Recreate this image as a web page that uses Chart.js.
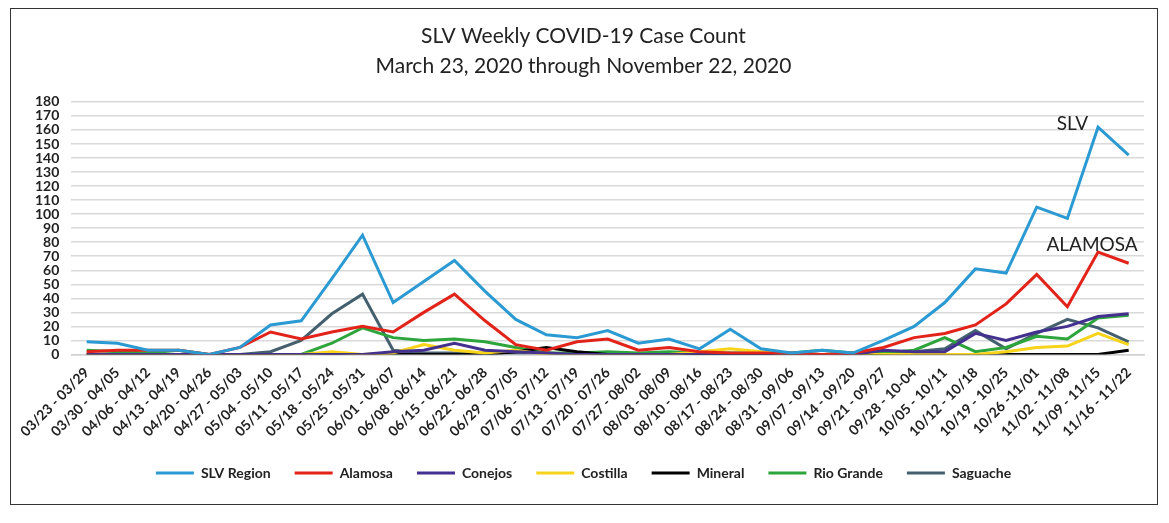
<!DOCTYPE html>
<html lang="en">
<head>
    <meta charset="UTF-8">
    <title>SLV Weekly COVID-19 Case Count</title>
    <script src="https://cdn.jsdelivr.net/npm/chart.js"></script>
    <style>
        body {
            margin: 0;
            background: #fff;
            font-family: 'Lato', sans-serif;
        }
        .frame {
            position: absolute;
            left: 10px;
            top: 8px;
            width: 1146px;
            height: 495px;
            border: 1.5px solid #333;
        }
    </style>
</head>
<body>
    <div class="frame">
        <canvas id="chart"></canvas>
    </div>

    <script>
        const weeks = ["03/23 - 03/29", "03/30 - 04/05", "04/06 - 04/12", "04/13 - 04/19", "04/20 - 04/26",
            "04/27 - 05/03", "05/04 - 05/10", "05/11 - 05/17", "05/18 - 05/24", "05/25 - 05/31",
            "06/01 - 06/07", "06/08 - 06/14", "06/15 - 06/21", "06/22 - 06/28", "06/29 - 07/05",
            "07/06 - 07/12", "07/13 - 07/19", "07/20 - 07/26", "07/27 - 08/02", "08/03 - 08/09",
            "08/10 - 08/16", "08/17 - 08/23", "08/24 - 08/30", "08/31 - 09/06", "09/07 - 09/13",
            "09/14 - 09/20", "09/21 - 09/27", "09/28 - 10-04", "10/05 - 10/11", "10/12 - 10/18",
            "10/19 - 10/25", "10/26 -11/01", "11/02 - 11/08", "11/09 - 11/15", "11/16 - 11/22"];

        const slvRegion = [9, 8, 3, 3, 0, 5, 21, 24, 54, 85, 37, 52, 67, 45, 25, 14, 12, 17, 8, 11, 4, 18, 4, 1, 3, 1, 10, 20, 37, 61, 58, 105, 97, 162, 142];
        const alamosa   = [2, 3, 3, 3, 0, 5, 16, 11, 16, 20, 16, 30, 43, 24, 7, 3, 9, 11, 3, 5, 2, 1, 1, 1, 0, 1, 5, 12, 15, 21, 36, 57, 34, 73, 65];
        const conejos   = [0, 0, 0, 0, 0, 0, 0, 0, 0, 0, 2, 3, 8, 3, 2, 1, 0, 0, 0, 0, 0, 0, 0, 0, 0, 0, 3, 2, 2, 15, 10, 16, 20, 27, 29];
        const costilla  = [0, 0, 0, 0, 0, 0, 0, 0, 2, 0, 1, 7, 3, 1, 3, 0, 0, 0, 0, 0, 2, 4, 2, 0, 0, 0, 0, 0, 0, 0, 2, 5, 6, 15, 7];
        const mineral   = [0, 0, 0, 0, 0, 0, 0, 0, 0, 0, 0, 0, 0, 0, 2, 5, 2, 0, 0, 0, 0, 0, 0, 0, 0, 0, 0, 0, 0, 0, 0, 0, 0, 0, 3];
        const rioGrande = [3, 2, 1, 3, 0, 0, 0, 0, 8, 19, 12, 10, 11, 9, 5, 1, 1, 2, 1, 2, 1, 1, 1, 1, 3, 1, 1, 3, 12, 2, 5, 13, 11, 26, 28];
        const saguache  = [0, 0, 0, 0, 0, 0, 2, 10, 29, 43, 3, 1, 1, 1, 1, 1, 0, 0, 0, 0, 0, 0, 0, 0, 0, 0, 1, 2, 4, 17, 4, 15, 25, 19, 9];

        const yTicks = [0, 10, 20, 30, 40, 50, 60, 70, 80, 90, 100, 110, 120, 130, 140, 150, 160, 170, 180];

        // callouts next to the two biggest lines
        const callouts = [
            { text: 'SLV', index: 33, value: 164, dx: -10, align: 'right' },
            { text: 'ALAMOSA', index: 33, value: 78, dx: -6, align: 'center' }
        ];

        function line(label, data, color) {
            return {
                label: label,
                data: data,
                borderColor: color,
                backgroundColor: color,
                borderWidth: 3,
                pointRadius: 0,
                tension: 0,
                fill: false
            };
        }

        const calloutPlugin = {
            id: 'callouts',
            afterDatasetsDraw(chart) {
                const { ctx, scales: { x, y } } = chart;
                ctx.save();
                ctx.font = '19px Lato';
                ctx.fillStyle = '#222';
                ctx.textBaseline = 'middle';
                callouts.forEach(c => {
                    ctx.textAlign = c.align;
                    ctx.fillText(c.text, x.getPixelForValue(c.index) + c.dx, y.getPixelForValue(c.value));
                });
                ctx.restore();
            }
        };

        const ctx = document.getElementById('chart').getContext('2d');
        new Chart(ctx, {
            type: 'line',
            data: {
                labels: weeks,
                datasets: [
                    line('SLV Region', slvRegion, '#2b9ad3'),
                    line('Alamosa', alamosa, '#e2231a'),
                    line('Conejos', conejos, '#44308f'),
                    line('Costilla', costilla, '#f7d31a'),
                    line('Mineral', mineral, '#000000'),
                    line('Rio Grande', rioGrande, '#2ea43c'),
                    line('Saguache', saguache, '#44606e')
                ]
            },
            options: {
                responsive: true,
                maintainAspectRatio: false,
                animation: false,
                layout: { padding: { left: 12, right: 13, top: 4, bottom: 14 } },
                scales: {
                    x: {
                        offset: true,
                        grid: { display: false },
                        border: { color: '#d0d0d0', width: 1.5 },
                        ticks: {
                            autoSkip: false,
                            maxRotation: 45,
                            minRotation: 45,
                            padding: 2,
                            color: '#222',
                            font: { family: 'Lato', size: 14, weight: 'bold' }
                        }
                    },
                    y: {
                        min: 0,
                        max: 180,
                        afterBuildTicks(axis) {
                            axis.ticks = yTicks.map(v => ({ value: v }));
                        },
                        grid: { color: '#d9d9d9', lineWidth: 1.5, drawTicks: false },
                        border: { display: false },
                        ticks: {
                            autoSkip: false,
                            padding: 12,
                            color: '#222',
                            font: { family: 'Lato', size: 14, weight: 'bold' }
                        }
                    }
                },
                plugins: {
                    title: {
                        display: true,
                        text: ['SLV Weekly COVID-19 Case Count', 'March 23, 2020 through November 22, 2020'],
                        color: '#222',
                        font: { family: 'Lato', size: 21, weight: 'normal', lineHeight: 1.45 },
                        padding: { top: 8, bottom: 20 }
                    },
                    legend: {
                        position: 'bottom',
                        labels: {
                            boxWidth: 38,
                            boxHeight: 3,
                            padding: 24,
                            color: '#222',
                            font: { family: 'Lato', size: 14, weight: 'bold' },
                            generateLabels(chart) {
                                return Chart.defaults.plugins.legend.labels.generateLabels(chart)
                                    .map(item => Object.assign(item, { lineWidth: 0 }));
                            }
                        }
                    },
                    tooltip: { enabled: false }
                }
            },
            plugins: [calloutPlugin]
        });
    </script>
</body>
</html>
